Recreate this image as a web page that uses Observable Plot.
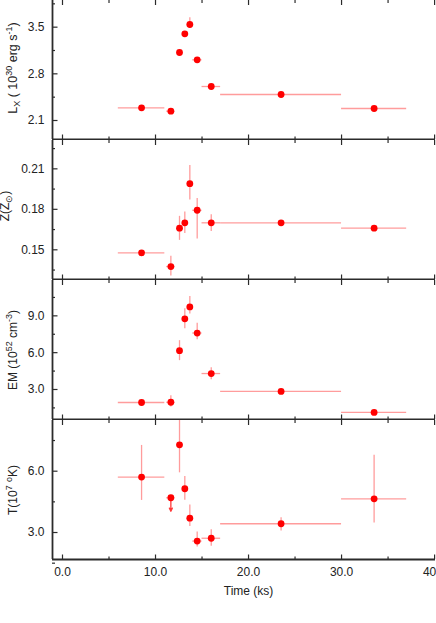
<!DOCTYPE html>
<html>
<head>
<meta charset="utf-8">
<script src="https://cdn.jsdelivr.net/npm/d3@7"></script>
<script src="https://cdn.jsdelivr.net/npm/@observablehq/plot@0.6"></script>
<style>
  body { margin: 0; background: #fff; }
  #chart svg { display: block; }
</style>
</head>
<body>
<div id="chart"></div>
<script>
// ---- data ----
const time   = [8.5, 11.65, 12.58, 13.15, 13.69, 14.48, 15.99, 23.5, 33.5];
const timeLo = [6.0, 11.2, 12.3, 12.9, 13.4, 14.0, 15.0, 17.0, 30.0];
const timeHi = [11.0, 12.1, 12.9, 13.4, 14.0, 15.0, 17.0, 30.0, 37.0];

const Lx   = [2.29, 2.24, 3.12, 3.40, 3.54, 3.01, 2.61, 2.49, 2.28];
const LxLo = [2.27, 2.21, 3.08, 3.37, 3.48, 2.98, 2.59, 2.47, 2.26];
const LxHi = [2.31, 2.27, 3.16, 3.43, 3.64, 3.04, 2.63, 2.51, 2.30];

const Z   = [0.1478, 0.1376, 0.166, 0.170, 0.199, 0.1793, 0.170, 0.170, 0.166];
const ZLo = [0.1475, 0.1306, 0.157, 0.162, 0.187, 0.158, 0.1636, 0.169, 0.1645];
const ZHi = [0.1481, 0.1452, 0.1748, 0.178, 0.2125, 0.188, 0.176, 0.171, 0.1675];

const EM   = [1.94, 1.96, 6.16, 8.76, 9.73, 7.60, 4.30, 2.84, 1.13];
const EMLo = [1.90, 1.57, 5.35, 7.94, 9.16, 7.06, 3.80, 2.80, 1.10];
const EMHi = [1.98, 2.48, 6.98, 9.57, 10.57, 8.40, 4.77, 2.88, 1.16];

const T   = [5.71, 4.70, 7.29, 5.14, 3.70, 2.58, 2.72, 3.43, 4.65];
const TLo = [4.57, null, 5.92, 4.58, 3.29, 2.29, 2.33, 3.08, 3.47];
const THi = [7.26, null, 9.60, 5.74, 4.35, 3.02, 3.13, 3.72, 6.78];
const TUpperLimitIndex = 1;
const TUpperLimitTo = 4.04;

const xMajor = [0, 10, 20, 30, 40];
const xMinor = [5, 15, 25, 35];
const xTickLabels = ["0.0", "10.0", "20.0", "30.0", "40.0"];

// ---- layout ----
const W = 436, ML = 52, MR = 1, PH = 139;
const xDomain = [-1.075, 40.1];
const axisColor = "#2b2b2b";
const errColor = "#ff9c9c";
const dotColor = "#ff0000";
const font = "'Liberation Sans', Arial, Helvetica, sans-serif";

function panel(o) {
  const rows = time.map((t, i) => ({
    t, tlo: timeLo[i], thi: timeHi[i], v: o.values[i], lo: o.lo[i], hi: o.hi[i]
  }));
  const height = PH + o.marginBottom;
  const innerW = W - ML - MR;
  const marks = [
    // error bars
    Plot.ruleY(rows, {y: "v", x1: "tlo", x2: "thi", stroke: errColor, strokeWidth: 1.3, clip: true}),
    Plot.ruleX(rows.filter(d => d.lo != null), {x: "t", y1: "lo", y2: "hi", stroke: errColor, strokeWidth: 1.3, clip: true}),
    ...(o.extra || []),
    Plot.dot(rows, {x: "t", y: "v", r: 3.4, fill: dotColor, stroke: "none"}),
    // x ticks, bottom pointing up and top pointing down
    Plot.ruleX(xMajor, {stroke: axisColor, strokeWidth: 1.2, insetTop: PH - 4.5}),
    Plot.ruleX(xMinor, {stroke: axisColor, strokeWidth: 1.2, insetTop: PH - 2.5}),
    Plot.ruleX(xMajor, {stroke: axisColor, strokeWidth: 1.2, insetBottom: PH - 5}),
    Plot.ruleX(xMinor, {stroke: axisColor, strokeWidth: 1.2, insetBottom: PH - 3}),
    // y ticks pointing inward
    Plot.ruleY(o.ticks, {stroke: axisColor, strokeWidth: 1.2, insetRight: innerW - 5.5}),
    Plot.ruleY(o.minor, {stroke: axisColor, strokeWidth: 1.2, insetRight: innerW - 3}),
    // axis lines
    Plot.ruleY([o.domain[0]], {stroke: axisColor, strokeWidth: 1.8}),
    Plot.ruleX([xDomain[0]], {stroke: axisColor, strokeWidth: 1.8}),
    Plot.axisY({ticks: o.ticks, tickSize: 0, tickPadding: 8, tickFormat: o.fmt, fontSize: 12})
  ];
  if (o.xAxis) {
    marks.push(Plot.axisX({ticks: xMajor, tickSize: 0, tickPadding: 8,
      tickFormat: (d, i) => xTickLabels[xMajor.indexOf(d)], fontSize: 12, label: null}));
    marks.push(Plot.text(["Time (ks)"], {x: 20, y: o.domain[0], dy: 32, fontSize: 12, textAnchor: "middle", lineAnchor: "middle"}));
  }
  const svg = Plot.plot({
    width: W, height,
    marginLeft: ML, marginRight: MR, marginTop: 0, marginBottom: o.marginBottom,
    style: {fontFamily: font, fontSize: "12px", color: "#222", background: "white", overflow: "hidden"},
    x: {domain: xDomain, axis: null},
    y: {domain: o.domain, axis: null},
    marks
  });
  // rotated y label with sub/superscripts
  const lab = d3.select(svg).append("text")
    .attr("transform", `translate(${o.labelX},${o.labelY}) rotate(-90)`)
    .attr("text-anchor", "middle")
    .attr("font-family", font)
    .attr("font-size", o.labelSize || 12)
    .attr("fill", "#222");
  for (const part of o.label) {
    const ts = lab.append("tspan").text(part.t);
    if (part.s === "sup") ts.attr("font-size", 9).attr("dy", -5);
    if (part.s === "sub") ts.attr("font-size", 9).attr("dy", 3);
    if (part.s === "back") ts.attr("dy", part.dy);
  }
  return svg;
}

const chart = document.getElementById("chart");

chart.append(panel({
  values: Lx, lo: LxLo, hi: LxHi,
  domain: [1.815, 3.9], ticks: [2.1, 2.8, 3.5], minor: [2.45, 3.15, 3.85],
  fmt: d => d.toFixed(1), marginBottom: 1,
  labelX: 17, labelY: 68, labelSize: 12.5,
  label: [{t: "L"}, {t: "X", s: "sub"}, {t: " ( 10", s: "back", dy: -3}, {t: "30", s: "sup"},
          {t: " erg s", s: "back", dy: 5}, {t: "-1", s: "sup"}, {t: ")", s: "back", dy: 5}]
}));

chart.append(panel({
  values: Z, lo: ZLo, hi: ZHi,
  domain: [0.128, 0.231], ticks: [0.15, 0.18, 0.21], minor: [0.135, 0.165, 0.195, 0.225],
  fmt: d => d.toFixed(2), marginBottom: 1,
  labelX: 8.5, labelY: 66,
  label: [{t: "Z(Z"}, {t: "⊙", s: "sub"}, {t: ")", s: "back", dy: -3}]
}));

chart.append(panel({
  values: EM, lo: EMLo, hi: EMHi,
  domain: [0.555, 11.88], ticks: [3, 6, 9], minor: [1.5, 4.5, 7.5, 10.5],
  fmt: d => d.toFixed(1), marginBottom: 1,
  labelX: 17, labelY: 70,
  label: [{t: "EM (10"}, {t: "52", s: "sup"}, {t: " cm", s: "back", dy: 5}, {t: "-3", s: "sup"}, {t: ")", s: "back", dy: 5}]
}));

const limitRow = [{x: time[TUpperLimitIndex], y1: T[TUpperLimitIndex], y2: TUpperLimitTo}];
chart.append(panel({
  values: T, lo: TLo, hi: THi,
  domain: [1.68, 8.48], ticks: [3, 6], minor: [1.5, 4.5, 7.5],
  fmt: d => d.toFixed(1), marginBottom: 623 - 420 - PH,
  labelX: 17, labelY: 70,
  extra: [Plot.arrow(limitRow, {x1: "x", x2: "x", y1: "y1", y2: "y2", stroke: "#ff3a3a", strokeWidth: 1.3, headLength: 4, headAngle: 50})],
  label: [{t: "T(10"}, {t: "7", s: "sup"}, {t: " ", s: "back", dy: 5}, {t: "o", s: "sup"}, {t: "K)", s: "back", dy: 5}],
  xAxis: true
}));
</script>
</body>
</html>
